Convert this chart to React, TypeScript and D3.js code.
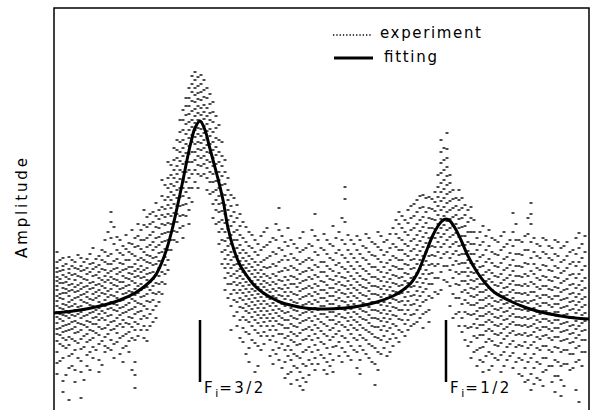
import React from 'react';
import * as d3 from 'd3';

const W = 594;
const H = 410;

// frequency samples of the first experimental sweep (arbitrary units)
const freqA = [0.6,1.8,3.0,4.2,5.4,6.6,7.8,9.0,10.2,11.4,12.6,13.8,15.0,16.2,17.4,18.6,19.8,21.0,22.2,23.4,24.6,25.8,27.0,28.2,29.4,30.6,31.8,33.0,34.2,35.4,36.6,37.8,39.0,40.2,41.4,42.6,43.8,45.0,46.2,47.4,48.6,49.8,51.0,52.2,53.4,54.6,55.8,57.0,58.2,59.4,60.6,61.8,63.0,64.2,65.4,66.6,67.8,69.0,70.2,71.4,72.6,73.8,75.0,76.2,77.4,78.6,79.8,81.0,82.2,83.4,84.6,85.8,87.0,88.2,89.4,90.6,91.8,93.0,94.2,95.4,96.6,97.8,99.0,100.2,101.4,102.6,103.8,105.0,106.2];

// measured amplitudes at each frequency sample of sweep A (repeated scans)
const experimentA: number[][] = [
[158,148,142,138,133,129,124,120,114,109,104,98,93,87,81,76,69,58,47,36],
[152,144,140,135,127,122,117,111,106,101,95,89,84,78,72,64,52,29,18],
[153,141,137,131,125,119,114,108,103,97,92,86,80,73,65,54,42,10],
[148,142,136,130,123,118,112,106,100,94,89,83,77,69,60,40,28],
[152,144,139,133,127,121,115,110,104,98,92,86,80,71,61,49,38,12],
[151,142,136,130,124,118,113,107,101,95,89,83,76,68,55,44],
[162,147,141,134,128,122,116,110,104,98,92,86,79,72,63,52],
[154,145,138,132,126,120,114,108,102,96,90,83,75,66,50,38],
[170,158,148,140,134,128,122,116,110,104,97,90,82,73,64,58],
[198,188,172,156,146,139,133,127,121,115,108,102,95,88,80,70,60],
[173,160,151,142,136,130,124,118,112,105,99,92,84,77,68],
[164,155,146,140,134,128,122,116,110,103,97,90,83,74,62,48],
[167,158,150,143,137,131,125,119,113,107,100,93,86,78,69,58],
[172,163,154,146,139,133,127,121,115,109,103,96,88,80,70,48,35,22],
[180,170,161,152,144,138,132,126,120,113,106,99,91,80],
[193,183,172,163,155,148,142,136,130,123,116,109,101,92,80,69],
[198,188,178,168,160,152,145,138,131,124,117,110,100,88],
[200,191,182,173,165,157,149,142,134,126,118,108],
[225,210,201,193,185,177,169,161,153,145,136,126],
[245,235,226,218,210,202,194,186,178,170,160],
[270,260,252,244,236,228,220,212,204,196,188,178,168],
[300,290,280,270,262,254,246,238,230,222,214,205,195,184,172],
[322,312,304,296,288,280,272,264,256,248,240,232,222,212,200,186],
[338,330,322,315,308,301,294,287,280,273,266,258,250,240,228],
[335,326,318,310,302,295,288,281,274,267,260,252,244,234],
[322,312,302,294,286,279,272,265,258,250,242,232,220],
[308,298,288,278,268,260,252,244,236,228,218,206,192],
[285,270,258,248,238,230,222,214,206,198,188,178,166],
[250,238,226,215,205,196,187,178,169,160,151,142,132,120],
[215,204,194,184,175,166,158,150,142,134,126,116,104,80],
[205,192,180,170,162,154,146,139,132,125,117,108,98,84],
[188,172,160,152,145,138,131,124,117,110,102,93,82,68],
[178,164,154,146,139,132,125,118,111,104,97,88,76,62,48],
[170,158,148,140,133,126,119,112,105,98,90,80,67,38],
[174,160,148,140,133,126,120,113,106,99,92,84,74,60],
[182,165,152,142,134,127,120,113,106,99,92,84,74],
[172,158,146,136,128,121,114,107,100,92,84,74,60,46],
[202,180,162,148,138,130,122,115,108,101,94,86,76,62,50],
[168,154,142,133,125,118,111,104,97,90,82,72,60,48,32],
[170,156,144,134,126,118,110,102,94,86,78,70,60,50,38,26],
[162,150,140,131,123,115,107,99,91,83,74,65,54,42,30],
[178,160,148,138,129,121,113,105,97,89,80,70,58,46,32,20],
[166,152,142,133,124,116,108,100,92,83,74,63,50,35],
[196,174,158,145,135,126,118,110,102,94,85,76,65,52,40],
[162,148,138,129,120,112,104,96,88,79,68,55],
[170,156,144,134,125,117,109,101,93,84,74,62,48,36],
[184,164,150,139,130,122,114,106,98,90,82,73,63,50,38],
[178,160,147,137,128,120,112,104,96,88,79,68,54],
[223,211,188,166,152,141,132,124,116,108,100,92,83,72,58],
[170,156,144,134,125,117,109,101,93,85,76,64,50],
[174,160,148,137,128,120,112,104,96,88,80,70,58,42],
[164,152,141,131,123,115,107,99,91,82,72,60],
[172,158,146,136,127,119,111,103,95,87,78,66,52],
[166,154,143,133,124,116,108,100,92,83,73,62,46,25],
[174,160,148,138,129,121,113,105,97,89,80,70,56],
[170,158,147,137,128,120,112,104,96,88,79,68,54],
[182,166,154,144,135,127,119,111,103,95,86,76,64],
[198,186,172,160,150,141,132,124,116,108,100,91,80,68],
[190,178,166,156,146,137,129,121,113,105,96,86,74],
[204,192,180,169,159,150,141,132,123,114,105,95,84],
[210,198,186,175,165,155,146,137,128,119,110,100,88],
[215,203,193,183,173,163,154,145,136,127,118,108,96,82],
[213,202,192,182,172,163,154,145,136,126,114,100,88],
[218,208,199,190,181,172,163,154,144,132,118],
[270,258,247,237,227,218,209,200,191,182,173,163,152,138,120],
[277,261,252,243,234,225,216,207,198,189,180,170,158,144,128],
[220,211,202,193,184,175,166,156,145,132,116,92],
[220,210,200,191,182,173,164,155,146,136,125,112,98,84],
[205,195,184,174,165,156,147,138,129,120,110,98,84,70],
[203,192,178,166,156,147,138,130,122,114,105,95,83,68,52],
[172,160,149,140,131,123,115,107,99,91,82,72,60,44],
[184,168,155,144,135,126,118,110,102,94,85,75,63,48,38],
[180,164,151,140,131,122,114,106,98,90,81,71,58,40],
[170,156,144,134,125,117,109,101,93,85,76,65,52],
[174,160,147,136,127,118,110,102,94,86,77,67,55,38],
[166,153,142,132,123,115,107,99,91,83,74,63,50],
[197,178,164,150,139,129,120,112,104,96,88,79,69,57,42],
[170,156,144,134,125,117,109,101,93,85,76,65,52,36],
[174,160,147,136,126,117,109,101,93,85,77,68,56,42,28],
[207,196,186,168,152,139,128,118,109,100,92,84,75,65,52,36,20],
[166,154,142,132,123,114,106,98,90,82,73,62,48,32],
[172,158,145,134,124,115,107,99,91,83,74,64,52,38,24],
[164,152,140,130,121,113,105,97,89,81,72,60,44],
[170,156,144,133,123,114,106,98,90,82,73,63,50,34,18],
[162,148,137,127,118,110,102,94,86,78,69,58,44,30,14],
[168,154,142,131,121,112,104,96,88,80,71,60,46],
[160,148,136,126,117,109,101,93,85,77,68,56,42],
[177,162,148,136,125,116,108,100,92,84,75,64,50,8],
[174,158,144,132,122,113,105,97,89,80,70,58]
];

// frequency samples of the second (interleaved) sweep
const freqB = [1.2,2.4,3.6,4.8,6.0,7.2,8.4,9.6,10.8,12.0,13.2,14.4,15.6,16.8,18.0,19.2,20.4,21.6,22.8,24.0,25.2,26.4,27.6,28.8,30.0,31.2,32.4,33.6,34.8,36.0,37.2,38.4,39.6,40.8,42.0,43.2,44.4,45.6,46.8,48.0,49.2,50.4,51.6,52.8,54.0,55.2,56.4,57.6,58.8,60.0,61.2,62.4,63.6,64.8,66.0,67.2,68.4,69.6,70.8,72.0,73.2,74.4,75.6,76.8,78.0,79.2,80.4,81.6,82.8,84.0,85.2,86.4,87.6,88.8,90.0,91.2,92.4,93.6,94.8,96.0,97.2,98.4,99.6,100.8,102.0,103.2,104.4,105.6];

const experimentB: number[][] = [
[150,139,131,127,116,112,102,96,91,82,75,66,49],
[146,133,128,121,117,105,99,94,85,79,70,62,35],
[150,144,135,126,120,110,104,95,88,81,71,56,44],
[155,141,134,125,119,113,103,96,87,78,67,52],
[148,140,131,123,116,108,100,94,85,74,63,30],
[156,146,138,127,121,111,105,97,88,80,70,58,40],
[151,143,135,125,118,112,100,93,86,77,60],
[160,150,141,130,124,117,106,99,92,81,69,45],
[178,154,146,137,130,119,113,101,94,85,76,62],
[183,166,149,141,131,125,114,106,100,89,81,66,52],
[170,157,147,138,128,121,109,102,95,86,72,56],
[175,161,150,141,132,124,117,105,98,87,76,64],
[180,166,156,143,136,129,118,111,101,92,83,72,40],
[186,174,164,150,141,134,124,117,107,98,86,74],
[200,185,170,158,150,140,133,122,114,104,94,84,72],
[196,186,175,165,154,147,137,128,120,108,96,84],
[207,194,183,172,163,153,146,135,127,116,104,92],
[230,214,203,195,186,176,168,158,149,138,128,116],
[248,232,222,213,205,196,187,178,170,160,150,140],
[262,250,240,232,224,215,206,197,188,179,170],
[290,278,268,258,249,240,231,222,213,204,194,182],
[312,304,295,286,276,266,257,248,238,228,218,206,194],
[334,326,318,309,299,290,283,275,268,258,248,236,222,208],
[333,324,317,311,304,297,290,282,276,268,261,254,245,236,222],
[330,320,313,305,298,291,284,277,270,262,254,246,236],
[316,306,297,290,281,274,266,257,248,238,228,216],
[294,282,272,263,255,246,238,229,220,210,200,186],
[268,254,244,234,225,216,207,199,190,181,170,158,146],
[232,220,210,200,190,181,172,164,155,146,137,126,112],
[212,198,188,178,170,161,153,145,136,128,120,110,94],
[196,184,175,165,157,149,141,134,127,120,112,103,90,72],
[183,168,157,149,142,135,128,121,114,106,99,90,78,56],
[175,162,151,143,136,129,121,115,108,101,93,84,70],
[166,155,145,137,130,123,116,109,102,95,87,77,64,44],
[178,163,150,143,136,129,123,116,109,102,95,88,78,66],
[168,154,143,132,125,118,111,104,96,89,80,70,54],
[186,170,156,144,134,126,119,112,104,97,89,80,68,56],
[174,160,150,139,129,121,114,106,99,92,85,76,66,42],
[182,164,150,140,130,122,114,106,98,90,82,74,64,54,36],
[166,152,142,133,126,116,108,100,92,84,76,68,56,44],
[172,158,146,136,127,119,111,103,95,87,77,66,52,38,24],
[162,150,139,130,122,114,106,98,90,81,71,60,44,28],
[180,164,150,140,131,122,114,106,98,89,80,70,58,46],
[170,155,143,133,124,116,108,100,91,82,72,60,46],
[176,160,148,138,128,120,112,104,96,86,76,66,52,40],
[166,152,141,131,122,114,106,98,90,80,70,56,44],
[172,157,145,134,126,118,110,102,94,86,76,64],
[192,170,155,143,133,125,117,109,101,93,85,74,62,48],
[175,160,148,138,129,121,113,105,97,89,80,68,54],
[166,152,141,131,122,114,106,98,90,82,72,60],
[170,156,144,134,125,117,109,101,93,85,75,64,50,36],
[176,162,150,139,130,122,114,106,98,90,80,70,56],
[168,155,143,133,124,116,108,100,92,84,76,64,48],
[178,163,151,140,131,123,115,107,99,91,83,72,58,40],
[168,155,143,133,124,116,108,100,92,84,74,62],
[176,162,150,140,131,123,115,107,99,91,82,71,58],
[190,176,163,152,143,134,126,118,110,102,94,84,72],
[194,182,170,160,150,141,133,125,117,109,100,90,78],
[200,187,175,164,154,145,136,127,118,109,100,90,80],
[206,194,182,171,161,151,142,133,124,115,106,96,86],
[214,202,190,179,169,159,150,141,132,123,114,104,92],
[212,198,187,177,167,158,149,140,131,121,110,98],
[211,201,191,182,173,164,155,146,137,126,112],
[235,223,213,204,195,186,177,168,158,146,132,116],
[262,250,240,230,221,212,203,194,185,176,166,156,144,130],
[235,227,218,209,200,191,182,173,163,152,140,124,104],
[212,204,195,186,177,168,159,149,138,126,112,96],
[212,202,192,183,174,165,156,147,138,129,118,106,92,78],
[200,188,178,168,159,150,142,134,126,117,107,96,82,64],
[190,178,166,156,146,137,129,121,113,105,96,86,74,58],
[178,165,153,143,134,126,118,110,102,94,85,75,62,50],
[174,160,148,138,129,120,112,104,96,88,79,68,54],
[172,158,147,137,128,120,112,104,96,88,79,69,56,44],
[168,155,143,133,124,116,108,100,92,84,75,64,50],
[178,163,151,140,130,122,114,106,98,90,81,71,58,44],
[170,157,145,135,126,118,110,102,94,86,77,66,54],
[186,170,156,144,134,125,117,109,101,93,85,75,63,48],
[168,155,143,133,124,116,108,100,92,84,75,64,50,34],
[192,176,160,146,134,124,115,107,99,91,83,74,62,48,30],
[172,158,146,136,126,118,110,102,94,86,78,68,56,42,26],
[164,152,140,130,121,112,104,96,88,80,71,60,46,30],
[170,156,144,133,124,115,107,99,91,83,75,64,52,40],
[162,150,139,129,120,111,103,95,87,79,70,58,44,28],
[168,154,142,132,122,114,106,98,90,82,73,62,48,34],
[164,150,139,129,120,111,103,95,87,79,70,60,46,24],
[158,146,135,125,116,108,100,92,84,76,67,56,40],
[172,156,144,132,122,113,105,97,89,81,72,62,48,20],
[166,152,140,129,120,111,103,95,87,79,70,58,44]
];

// fitted curve
const fitFreq = [0,5.2,9.2,13.2,16.2,18.2,20.2,21.6,22.6,23.6,24.6,25.8,26.6,27.4,28.2,29.2,30.2,31,31.8,32.6,33.8,34.8,36,37.2,38.6,39.8,41.6,43.2,45.2,47.2,50.2,54.2,58.2,61.2,64.6,67.8,69.8,71.4,72.8,73.8,74.8,75.8,76.8,77.6,78.4,79.2,80.2,81.4,82.8,84.6,86.4,88,91.2,94.6,98.2,101.4,104.2,107];
const fitAmp = [97,100,104,110,117,124,134,148,162,180,202,230,250,268,282,289,280,265,250,235,210,182,160,145,134,126,118,113,108,105,102,101,102,104,108,114,120,127,138,150,163,175,184,189,191,189,182,170,154,138,126,118,109,102,97,94,92,91];

// hyperfine component markers
const markerFreq = [29.2, 78.4];
const markerLabel = ['3/2', '1/2'];

const legendLabels = ['experiment', 'fitting'];
const yLabel = 'Amplitude';

const FONT = "'DejaVu Sans', 'Liberation Sans', sans-serif";

export default function App() {
  const left = 54, right = 589, top = 8, bottom = 410;
  const x = d3.scaleLinear().domain([0, 107]).range([left, right]);
  const y = d3.scaleLinear().domain([0, 402]).range([bottom, top]);

  const fitLine = d3
    .line<number>()
    .x((_, i) => x(fitFreq[i]))
    .y((d) => y(d))
    .curve(d3.curveCatmullRom.alpha(0.5));

  const dots: { cx: number; cy: number }[] = [];
  experimentA.forEach((col, i) => {
    col.forEach((a) => dots.push({ cx: x(freqA[i]), cy: y(a) }));
  });
  experimentB.forEach((col, i) => {
    col.forEach((a) => dots.push({ cx: x(freqB[i]), cy: y(a) }));
  });

  const markerTop = 90;
  const markerBottom = 28;

  return (
    <svg
      width={W}
      height={H}
      style={{ position: 'absolute', left: 0, top: 0, background: '#fff' }}
    >
      <rect x={0} y={0} width={W} height={H} fill="#fff" />
      {/* experiment dots */}
      <g fill="#000">
        {dots.map((d, i) => (
          <rect key={i} x={d.cx - 1.5} y={d.cy - 0.7} width={3} height={1.4} />
        ))}
      </g>
      {/* fitting curve */}
      <path d={fitLine(fitAmp) || ''} fill="none" stroke="#000" strokeWidth={3} />

      {/* frame */}
      <path
        d={`M${left},${bottom + 10}V${top}H${right}V${bottom + 10}`}
        fill="none"
        stroke="#000"
        strokeWidth={1.5}
      />

      {/* markers */}
      {markerFreq.map((f, i) => (
        <g key={i}>
          <line
            x1={x(f)}
            x2={x(f)}
            y1={y(markerTop)}
            y2={y(markerBottom)}
            stroke="#000"
            strokeWidth={2.5}
          />
          <text
            x={x(f) + 4}
            y={y(markerBottom) + 11}
            fontFamily={FONT}
            fontSize={15}
            letterSpacing={2.5}
          >
            F
            <tspan fontSize={11} dy={4} letterSpacing={1}>i</tspan>
            <tspan dy={-4}>{'=' + markerLabel[i]}</tspan>
          </text>
        </g>
      ))}

      {/* legend */}
      <line x1={333} x2={372} y1={35} y2={35} stroke="#000" strokeWidth={1.3} strokeDasharray="1.3,2" />
      <text x={380} y={38} fontFamily={FONT} fontSize={15} textLength={101} lengthAdjust="spacing">
        {legendLabels[0]}
      </text>
      <line x1={334} x2={373} y1={58} y2={58} stroke="#000" strokeWidth={3} />
      <text x={384} y={62} fontFamily={FONT} fontSize={15} textLength={53} lengthAdjust="spacing">
        {legendLabels[1]}
      </text>

      {/* y label */}
      <text
        transform={`translate(27,208) rotate(-90)`}
        x={-50}
        fontFamily={FONT}
        fontSize={15}
        textLength={100}
        lengthAdjust="spacing"
      >
        {yLabel}
      </text>
    </svg>
  );
}
